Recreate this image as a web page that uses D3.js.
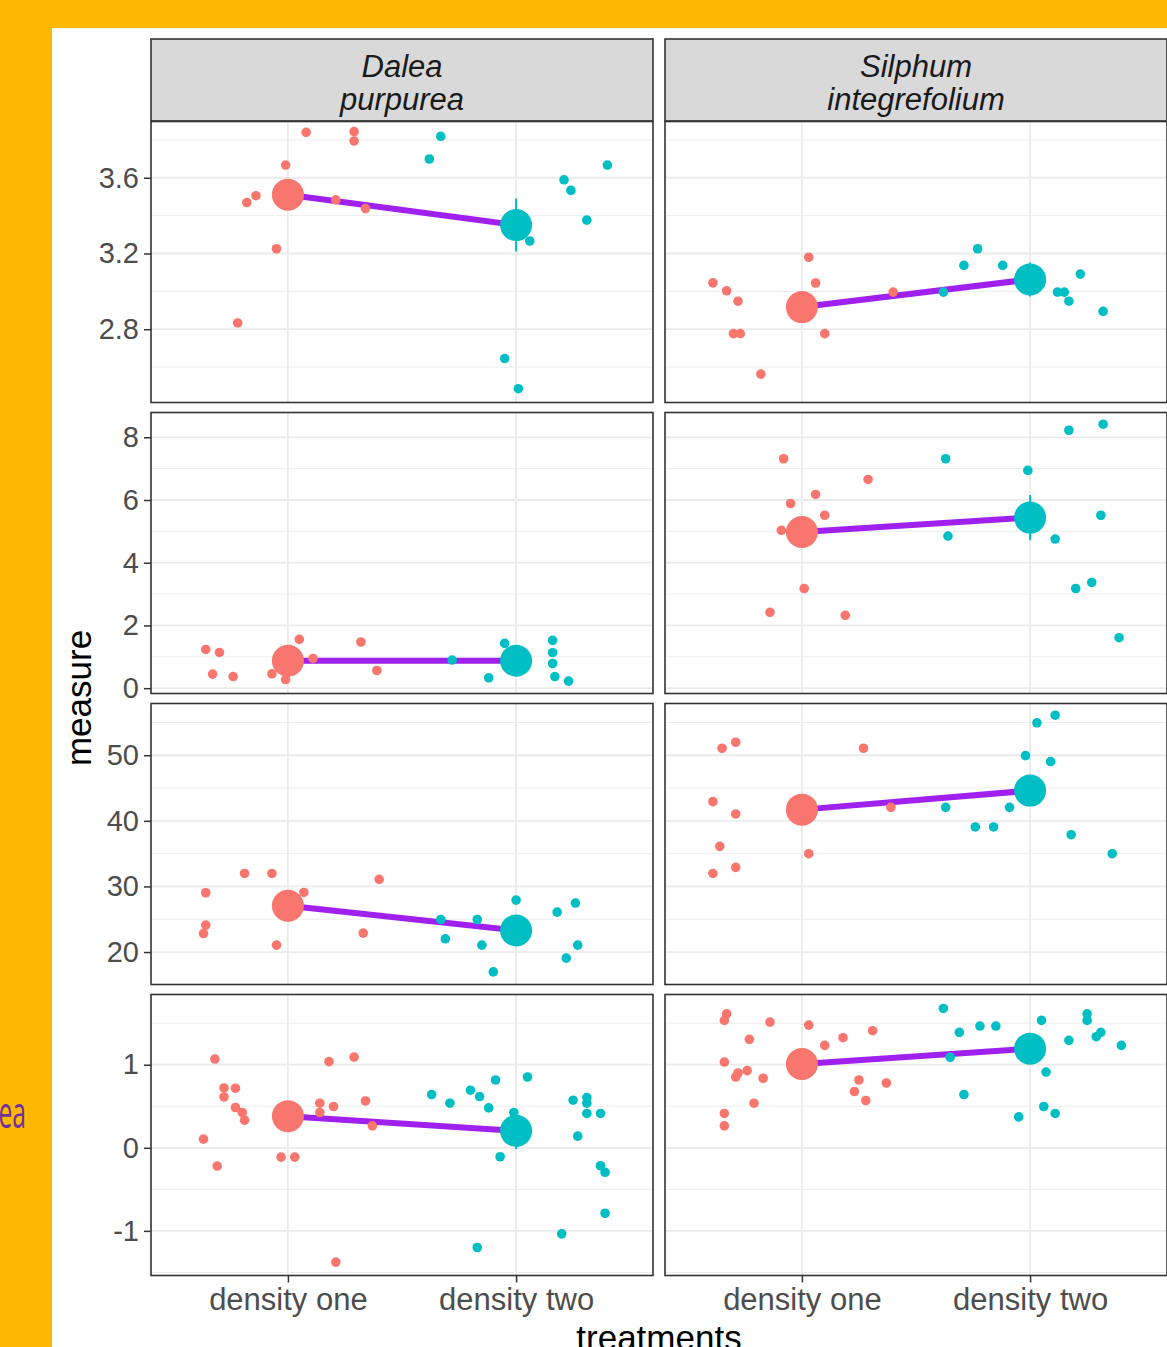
<!DOCTYPE html>
<html>
<head>
<meta charset="utf-8">
<script src="https://cdn.jsdelivr.net/npm/d3@7"></script>
<style>
  body { margin: 0; background: #ffb900; }
  svg { display: block; }
</style>
</head>
<body>
<svg id="chart" width="1167" height="1347"></svg>
<script>
// facet labels and x categories
const species = [["Dalea", "purpurea"], ["Silphum", "integrefolium"]];
const treatments = ["density one", "density two"];

// free y scale per row: limits as drawn and labelled ticks
const rowLimits = [[2.413, 3.897], [-0.17, 8.79], [15.05, 57.89], [-1.537, 1.845]];
const rowTicks = [[2.8, 3.2, 3.6], [0, 2, 4, 6, 8], [20, 30, 40, 50], [-1, 0, 1]];

// raw points: [jitter, value]
const daleaOne1 = [[0.08, 3.84], [0.29, 3.844], [0.29, 3.794], [-0.01, 3.667], [-0.18, 3.469], [-0.14, 3.505], [0.21, 3.483], [0.34, 3.437], [-0.05, 3.225], [-0.22, 2.833]];
const daleaTwo1 = [[-0.33, 3.819], [-0.38, 3.699], [0.4, 3.667], [0.21, 3.589], [0.24, 3.533], [0.31, 3.376], [0.06, 3.266], [-0.05, 2.645], [0.01, 2.486]];
const silphOne1 = [[-0.39, 3.045], [-0.33, 3.003], [-0.28, 2.948], [-0.3, 2.777], [-0.27, 2.777], [-0.18, 2.563], [0.03, 3.18], [0.06, 3.044], [0.1, 2.777], [0.4, 2.996]];
const silphTwo1 = [[-0.23, 3.225], [-0.29, 3.137], [-0.12, 3.137], [-0.38, 2.996], [0.12, 2.996], [0.15, 2.996], [0.17, 2.948], [0.22, 3.091], [0.32, 2.894]];

const daleaOne2 = [[-0.36, 1.235], [-0.3, 1.139], [-0.33, 0.448], [-0.24, 0.371], [0.05, 1.555], [0.11, 0.947], [-0.07, 0.458], [-0.01, 0.275], [0.32, 1.472], [0.39, 0.563]];
const daleaTwo2 = [[-0.28, 0.896], [-0.12, 0.33], [-0.05, 1.427], [0.16, 1.523], [0.16, 1.13], [0.16, 0.787], [0.17, 0.371], [0.23, 0.224]];
const silphOne2 = [[-0.08, 7.315], [0.29, 6.656], [0.06, 6.176], [-0.05, 5.888], [0.1, 5.514], [-0.09, 5.034], [0.01, 3.178], [-0.14, 2.419], [0.19, 2.323]];
const silphTwo2 = [[0.17, 8.224], [0.32, 8.416], [-0.37, 7.315], [-0.01, 6.944], [0.31, 5.514], [-0.36, 4.851], [0.11, 4.755], [0.27, 3.37], [0.2, 3.178], [0.39, 1.61]];

const daleaOne3 = [[-0.36, 29.04], [-0.19, 31.98], [-0.07, 31.98], [0.07, 29.08], [-0.36, 24.11], [-0.37, 22.82], [-0.05, 21.05], [0.33, 22.89], [0.4, 31.07]];
const daleaTwo3 = [[0, 27.92], [0.26, 27.47], [0.18, 26.09], [-0.33, 24.96], [-0.17, 24.96], [-0.31, 22.02], [-0.15, 21.05], [0.27, 21.05], [0.22, 19.07], [-0.1, 16.98]];
const silphOne3 = [[-0.35, 51.07], [-0.29, 51.98], [0.27, 51.07], [-0.39, 42.93], [-0.29, 41.05], [0.39, 42.06], [-0.36, 36.11], [0.03, 34.99], [-0.29, 32.9], [-0.39, 31.98]];
const silphTwo3 = [[0.11, 56.11], [0.03, 54.95], [-0.02, 49.95], [0.09, 49.04], [-0.37, 42.06], [-0.09, 42.06], [-0.24, 39.07], [-0.16, 39.07], [0.18, 37.89], [0.36, 34.99]];

const daleaOne4 = [[-0.32, 1.068], [-0.28, 0.72], [-0.23, 0.717], [-0.28, 0.612], [-0.23, 0.485], [-0.2, 0.425], [-0.19, 0.333], [-0.37, 0.104], [-0.31, -0.22], [-0.03, -0.112], [0.03, -0.112], [0.18, 1.037], [0.29, 1.092], [0.14, 0.537], [0.2, 0.497], [0.14, 0.425], [0.34, 0.564], [0.37, 0.264], [0.21, -1.376]];
const daleaTwo4 = [[-0.37, 0.641], [-0.29, 0.537], [-0.2, 0.693], [-0.16, 0.617], [-0.09, 0.816], [-0.12, 0.48], [0.05, 0.852], [-0.01, 0.425], [-0.07, -0.108], [-0.17, -1.2], [0.25, 0.573], [0.31, 0.605], [0.31, 0.537], [0.31, 0.413], [0.37, 0.413], [0.27, 0.14], [0.37, -0.216], [0.39, -0.295], [0.39, -0.788], [0.2, -1.036]];
const silphOne4 = [[-0.33, 1.613], [-0.34, 1.533], [-0.14, 1.513], [0.03, 1.477], [-0.23, 1.305], [0.18, 1.325], [0.31, 1.409], [0.1, 1.233], [-0.34, 1.032], [-0.24, 0.929], [-0.28, 0.9], [-0.29, 0.852], [-0.17, 0.837], [0.25, 0.816], [0.37, 0.78], [0.23, 0.677], [0.28, 0.569], [-0.21, 0.537], [-0.34, 0.413], [-0.34, 0.264]];
const silphTwo4 = [[-0.38, 1.677], [-0.31, 1.389], [-0.22, 1.465], [-0.15, 1.465], [0.05, 1.533], [0.25, 1.613], [0.25, 1.533], [0.17, 1.293], [0.31, 1.389], [0.29, 1.337], [0.4, 1.233], [-0.35, 1.089], [0.07, 0.912], [-0.29, 0.641], [0.06, 0.497], [0.11, 0.413], [-0.05, 0.372]];

// summary (mean +/- se) per row, [Dalea, Silphum]
const meanOne = [[3.51, 2.917], [0.874, 4.979], [27.05, 41.71], [0.381, 1.008]];
const meanTwo = [[3.35, 3.063], [0.874, 5.44], [23.28, 44.61], [0.204, 1.193]];
const seOne = [[0.08, 0.05], [0.15, 0.5], [1.4, 2.2], [0.13, 0.08]];
const seTwo = [[0.14, 0.09], [0.17, 0.72], [1.1, 2.3], [0.22, 0.1]];

const pointsOne = [[daleaOne1, silphOne1], [daleaOne2, silphOne2], [daleaOne3, silphOne3], [daleaOne4, silphOne4]];
const pointsTwo = [[daleaTwo1, silphTwo1], [daleaTwo2, silphTwo2], [daleaTwo3, silphTwo3], [daleaTwo4, silphTwo4]];

const colors = ["#F8766D", "#00BFC4"];
const lineColor = "#A020F0";

const layout = {
  colX: [151, 665],
  panelW: 502,
  stripTop: 39,
  stripH: 82,
  rowTop: 121.5,
  rowStep: 291,
  panelH: 281,
};

const svg = d3.select("#chart");

// slide background
svg.append("rect").attr("x", 52).attr("y", 28).attr("width", 1115).attr("height", 1319).attr("fill", "#fff");
svg.append("text")
  .attr("transform", "translate(26,1128) scale(0.56,1)")
  .attr("text-anchor", "end")
  .style("font-family", "'Open Sans', sans-serif")
  .style("font-size", "44px")
  .style("fill", "#7030A0")
  .text("ea");

const font = "'Liberation Sans', Arial, sans-serif";

// strips
species.forEach((lines, c) => {
  const x0 = layout.colX[c];
  svg.append("rect")
    .attr("x", x0).attr("y", layout.stripTop)
    .attr("width", layout.panelW).attr("height", layout.stripH)
    .attr("fill", "#D9D9D9")
    .attr("stroke", "#333").attr("stroke-width", 1.6);
  const t = svg.append("text")
    .attr("text-anchor", "middle")
    .style("font-family", font)
    .style("font-size", "31px")
    .style("font-style", "italic")
    .style("fill", "#1A1A1A");
  lines.forEach((s, i) => {
    t.append("tspan")
      .attr("x", x0 + layout.panelW / 2)
      .attr("y", 76.5 + i * 33)
      .text(s);
  });
});

rowLimits.forEach((lim, r) => {
  const top = layout.rowTop + r * layout.rowStep;
  const bottom = top + layout.panelH;
  const y = d3.scaleLinear().domain(lim).range([bottom, top]);
  const ticks = rowTicks[r];
  const step = ticks[1] - ticks[0];
  const minor = d3.range(ticks[0] - step / 2, lim[1], step).filter((v) => v > lim[0]);

  species.forEach((sp, c) => {
    const x0 = layout.colX[c];
    const x = d3.scalePoint().domain(treatments).range([x0, x0 + layout.panelW]).padding(0.6);
    const g = svg.append("g");

    g.append("rect")
      .attr("x", x0).attr("y", top)
      .attr("width", layout.panelW).attr("height", layout.panelH)
      .attr("fill", "#fff");

    // grid
    g.selectAll(".minor")
      .data(minor)
      .enter()
      .append("line")
      .attr("x1", x0).attr("x2", x0 + layout.panelW)
      .attr("y1", (d) => y(d)).attr("y2", (d) => y(d))
      .attr("stroke", "#EBEBEB").attr("stroke-width", 0.9);
    g.selectAll(".major")
      .data(ticks)
      .enter()
      .append("line")
      .attr("x1", x0).attr("x2", x0 + layout.panelW)
      .attr("y1", (d) => y(d)).attr("y2", (d) => y(d))
      .attr("stroke", "#EBEBEB").attr("stroke-width", 1.8);
    g.selectAll(".vmajor")
      .data(treatments)
      .enter()
      .append("line")
      .attr("x1", (d) => x(d)).attr("x2", (d) => x(d))
      .attr("y1", top).attr("y2", bottom)
      .attr("stroke", "#EBEBEB").attr("stroke-width", 1.8);

    const means = [meanOne[r][c], meanTwo[r][c]];
    const ses = [seOne[r][c], seTwo[r][c]];

    // mean line
    g.append("line")
      .attr("x1", x(treatments[0])).attr("y1", y(means[0]))
      .attr("x2", x(treatments[1])).attr("y2", y(means[1]))
      .attr("stroke", lineColor).attr("stroke-width", 6);

    // pointrange
    treatments.forEach((tr, i) => {
      g.append("line")
        .attr("x1", x(tr)).attr("x2", x(tr))
        .attr("y1", y(means[i] - ses[i])).attr("y2", y(means[i] + ses[i]))
        .attr("stroke", colors[i]).attr("stroke-width", 2);
      g.append("circle")
        .attr("cx", x(tr)).attr("cy", y(means[i]))
        .attr("r", 16)
        .attr("fill", colors[i]);
    });

    // jittered raw points
    [pointsOne[r][c], pointsTwo[r][c]].forEach((pts, i) => {
      g.selectAll(`.pt${i}`)
        .data(pts)
        .enter()
        .append("circle")
        .attr("cx", (d) => x(treatments[i]) + d[0] * x.step())
        .attr("cy", (d) => y(d[1]))
        .attr("r", 4.8)
        .attr("fill", colors[i]);
    });

    g.append("rect")
      .attr("x", x0).attr("y", top)
      .attr("width", layout.panelW).attr("height", layout.panelH)
      .attr("fill", "none")
      .attr("stroke", "#333").attr("stroke-width", 1.6);

    if (c === 0) {
      const ax = svg.append("g")
        .attr("transform", `translate(${x0},0)`)
        .call(d3.axisLeft(y).tickValues(ticks).tickSize(7).tickPadding(5).tickFormat((d) => String(d)));
      ax.select(".domain").remove();
      ax.selectAll("line").attr("stroke", "#333").attr("stroke-width", 1.5);
      ax.selectAll("text")
        .style("font-family", font).style("font-size", "29px").style("fill", "#4D4D4D");
    }

    if (r === rowLimits.length - 1) {
      const ax = svg.append("g")
        .attr("transform", `translate(0,${bottom})`)
        .call(d3.axisBottom(x).tickSize(7).tickPadding(5));
      ax.select(".domain").remove();
      ax.selectAll("line").attr("stroke", "#333").attr("stroke-width", 1.5);
      ax.selectAll("text")
        .style("font-family", font).style("font-size", "31px").style("fill", "#4D4D4D");
    }
  });
});

// axis titles
svg.append("text")
  .attr("x", 659).attr("y", 1350)
  .attr("text-anchor", "middle")
  .style("font-family", font).style("font-size", "35px").style("fill", "#000")
  .text("treatments");

svg.append("text")
  .attr("transform", "translate(91,698) rotate(-90)")
  .attr("text-anchor", "middle")
  .style("font-family", font).style("font-size", "35px").style("fill", "#000")
  .text("measure");
</script>
</body>
</html>
